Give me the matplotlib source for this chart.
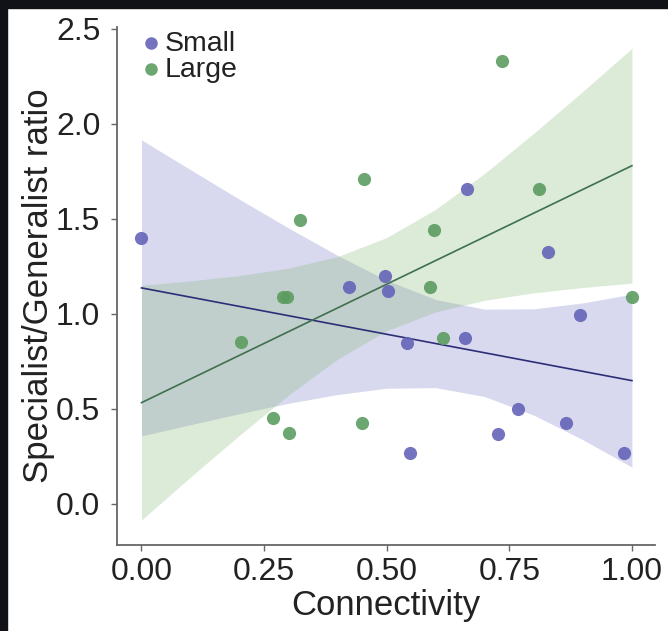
import numpy as np
import matplotlib
matplotlib.use("Agg")
import matplotlib.pyplot as plt
from matplotlib.patches import Rectangle

plt.rcParams['font.family'] = ['Liberation Sans', 'DejaVu Sans']

# points
small_x = [0.0, 0.423, 0.496, 0.503, 0.664, 0.829, 0.894, 0.541, 0.659, 0.768, 0.865, 0.727, 0.548, 0.984]
small_y = [1.40, 1.144, 1.20, 1.12, 1.656, 1.328, 0.995, 0.849, 0.872, 0.498, 0.428, 0.367, 0.267, 0.27]
large_x = [0.324, 0.288, 0.297, 0.736, 0.454, 0.811, 0.596, 0.589, 1.0, 0.615, 0.203, 0.269, 0.301, 0.45]
large_y = [1.495, 1.09, 1.09, 2.33, 1.71, 1.656, 1.442, 1.144, 1.091, 0.875, 0.854, 0.454, 0.372, 0.428]

# fitted lines and confidence bands (read at these x positions)
fit_x = [0.0, 1.0]
small_fit = [1.137, 0.649]
large_fit = [0.533, 1.780]

band_x = [0.0, 0.1, 0.2, 0.3, 0.4, 0.5, 0.6, 0.7, 0.8, 0.9, 1.0]
small_lo = [0.358, 0.417, 0.475, 0.530, 0.576, 0.609, 0.612, 0.565, 0.467, 0.338, 0.194]
small_hi = [1.916, 1.759, 1.603, 1.452, 1.308, 1.177, 1.076, 1.025, 1.027, 1.058, 1.104]
large_lo = [-0.085, 0.142, 0.362, 0.573, 0.762, 0.912, 1.011, 1.072, 1.111, 1.139, 1.162]
large_hi = [1.151, 1.174, 1.202, 1.241, 1.302, 1.402, 1.551, 1.740, 1.951, 2.171, 2.398]

purple = '#6464b8'
green = '#5c9c60'

fig = plt.figure(figsize=(6.68, 6.31), dpi=100)
ax = fig.add_axes([0.1751, 0.1363, 0.8054, 0.8209])

ax.fill_between(band_x, small_lo, small_hi, color='#8080c8', alpha=0.3, lw=0)
ax.fill_between(band_x, large_lo, large_hi, color='#8cbc80', alpha=0.3, lw=0)
ax.plot(fit_x, small_fit, color='#2e2e78', lw=1.2)
ax.plot(fit_x, large_fit, color='#3d7050', lw=1.2)

ax.scatter(small_x, small_y, s=90, color=purple, alpha=0.9, lw=0, label='Small', zorder=3)
ax.scatter(large_x, large_y, s=90, color=green, alpha=0.9, lw=0, label='Large', zorder=3)

ax.set_xlim(-0.05, 1.047)
ax.set_ylim(-0.216, 2.51)
ax.set_xticks([0, 0.25, 0.5, 0.75, 1.0])
ax.set_xticklabels(['0.00', '0.25', '0.50', '0.75', '1.00'])
ax.set_yticks([0, 0.5, 1.0, 1.5, 2.0, 2.5])
ax.set_yticklabels(['0.0', '0.5', '1.0', '1.5', '2.0', '2.5'])

for s in ['top', 'right']:
    ax.spines[s].set_visible(False)
for s in ['left', 'bottom']:
    ax.spines[s].set_color('#666666')
    ax.spines[s].set_linewidth(1.3)
ax.tick_params(axis='both', colors='#666666', length=4, width=1, labelcolor='#222222', labelsize=23)
ax.tick_params(axis='x', pad=5)
ax.tick_params(axis='y', pad=8)

ax.set_xlabel('Connectivity', fontsize=25, color='#222222', labelpad=1)
ax.set_ylabel('Specialist/Generalist ratio', fontsize=25, color='#222222', labelpad=1)

leg = ax.legend(loc='upper left', bbox_to_anchor=(0.02, 1.015), frameon=False, fontsize=20.5,
                handlelength=0.8, handletextpad=0.1, labelspacing=0.0, markerscale=0.95,
                borderpad=0.4, borderaxespad=0.0, labelcolor='#222222')

# dark frame on top and left of the screenshot
fig.patches.append(Rectangle((0, 1 - 8 / 631), 1, 8 / 631, transform=fig.transFigure,
                             color='#111118', zorder=10))
fig.patches.append(Rectangle((0, 0), 7 / 668, 1, transform=fig.transFigure,
                             color='#111118', zorder=10))

fig.savefig('out.png', dpi=100)
